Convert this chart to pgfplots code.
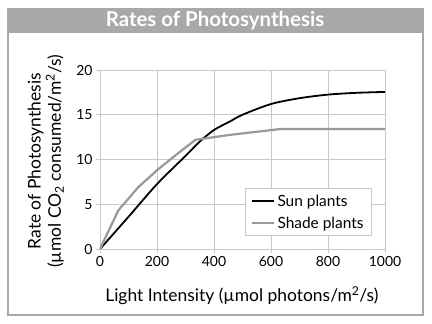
\documentclass[border=0pt]{standalone}
\usepackage{pgfplots}
\pgfplotsset{compat=1.18}
\usepackage{fontspec}
\setmainfont{Lato}
\definecolor{band}{HTML}{A8A8A8}
\definecolor{gridc}{HTML}{C8C8C8}
\definecolor{shadegray}{HTML}{999999}
\begin{document}
\begin{tikzpicture}
\useasboundingbox (-100bp,-75bp) rectangle (332bp,249bp);
\fill[white] (-100bp,-75bp) rectangle (332bp,249bp);
\draw[band, line width=2bp] (-92bp,-66bp) rectangle (323bp,240bp);
\fill[band] (-92bp,216bp) rectangle (323bp,240bp);
\node[text=white, font=\fontsize{20.5}{23}\selectfont\bfseries] at (115bp,228bp) {Rates of Photosynthesis};
\begin{axis}[
  at={(0,0)}, anchor=origin,
  scale only axis, width=285bp, height=179bp,
  xmin=0, xmax=1000, ymin=0, ymax=20,
  xtick={0,200,...,1000}, ytick={0,5,...,20},
  grid=major, major grid style={gridc, line width=0.8bp},
  axis line style={gridc, line width=0.8bp},
  tick style={gridc, line width=0.8bp},
  tick align=outside, major tick length=4bp,
  xtick pos=bottom, ytick pos=left,
  /pgf/number format/assume math mode=true,
  /pgf/number format/1000 sep={},
  ticklabel style={font=\fontsize{14}{16}\selectfont},
  xlabel={Light Intensity (µmol photons/m\textsuperscript{2}/s)},
  xlabel style={font=\fontsize{17.5}{20}\selectfont, at={(axis description cs:0.498,-0.26)}, anchor=center},
  ylabel={Rate of Photosynthesis\\(µmol CO\textsubscript{2} consumed/m\textsuperscript{2}/s)},
  ylabel style={font=\fontsize{17.5}{20.5}\selectfont, align=center, at={(axis description cs:-0.19,0.49)}, anchor=center},
  legend style={at={(0.954,0.073)}, anchor=south east, draw=gridc, line width=0.8bp, font=\fontsize{15.5}{17}\selectfont, row sep=5bp, inner xsep=6bp, inner ysep=4bp},
  legend cell align=left,
  legend image code/.code={\draw[#1] (0bp,0bp) -- (22bp,0bp);},
]
\addplot[black, line width=1.8bp, smooth] coordinates {
(0,0) (100,3.6) (200,7.25) (300,10.4) (350,12.0) (400,13.3) (456,14.25) (500,15.0) (600,16.2) (700,16.85) (800,17.25) (900,17.45) (1000,17.55)};
\addlegendentry{Sun plants}
\addplot[shadegray, line width=2.2bp] coordinates {
(0,0) (64,4.3) (134,6.9) (200,8.8) (274,10.7) (335,12.2) (456,12.75) (631,13.4) (1000,13.4)};
\addlegendentry{Shade plants}
\end{axis}
\end{tikzpicture}
\end{document}
